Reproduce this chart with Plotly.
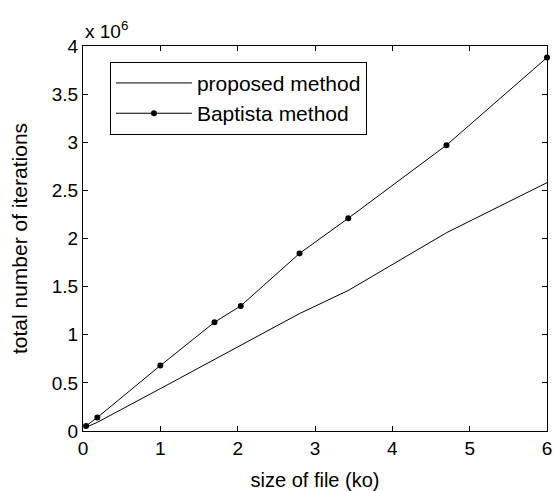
import plotly.graph_objects as go

# values in units of 10^6 iterations
file_size_ko = [0.04, 0.185, 1.0, 1.70, 2.04, 2.80, 3.43, 4.70, 6.0]
proposed_iters = [0.04, 0.09, 0.44, 0.745, 0.89, 1.22, 1.46, 2.06, 2.58]
baptista_iters = [0.053, 0.14, 0.68, 1.13, 1.30, 1.845, 2.21, 2.97, 3.88]

x_ticks = [0, 1, 2, 3, 4, 5, 6]
y_ticks = [0, 0.5, 1, 1.5, 2, 2.5, 3, 3.5, 4]
y_tick_labels = ["0", "0.5", "1", "1.5", "2", "2.5", "3", "3.5", "4"]

FONT = "Liberation Sans, Arial, sans-serif"

fig = go.Figure()
fig.add_trace(go.Scatter(
    x=file_size_ko, y=proposed_iters, mode="lines", name="proposed method",
    line=dict(color="black", width=1), cliponaxis=False,
))
fig.add_trace(go.Scatter(
    x=file_size_ko, y=baptista_iters, mode="lines+markers", name="Baptista method",
    line=dict(color="black", width=1),
    marker=dict(color="black", size=6), cliponaxis=False,
))

axis_common = dict(
    showline=True, linecolor="black", linewidth=1, mirror="ticks",
    ticks="inside", ticklen=5, tickcolor="black", showgrid=False, zeroline=False,
    tickfont=dict(family=FONT, size=19, color="black"),
)

fig.update_xaxes(
    range=[0, 6], tickvals=x_ticks,
    title=dict(text="size of file (ko)", font=dict(family=FONT, size=20, color="black"), standoff=15),
    **axis_common,
)
fig.update_yaxes(
    range=[0, 4], tickvals=y_ticks, ticktext=y_tick_labels,
    title=dict(text="total number of iterations", font=dict(family=FONT, size=21, color="black"), standoff=18),
    **axis_common,
)

fig.add_annotation(
    xref="paper", yref="paper", x=0, y=1, xanchor="left", yanchor="bottom",
    text="x 10<sup>6</sup>", showarrow=False, yshift=2,
    font=dict(family=FONT, size=19, color="black"),
)

fig.update_layout(
    width=553, height=491,
    margin=dict(l=83, r=6, t=46, b=60, autoexpand=False),
    paper_bgcolor="white", plot_bgcolor="white",
    font=dict(family=FONT, size=20, color="black"),
    showlegend=True,
    legend=dict(
        x=0.058, y=0.959, xanchor="left", yanchor="top",
        bgcolor="white", bordercolor="black", borderwidth=1,
        font=dict(family=FONT, size=21, color="black"),
        itemwidth=76, tracegroupgap=0,
    ),
)

fig.write_html("out.html", config={"displayModeBar": False},
               post_script="document.body.style.margin='0';")
